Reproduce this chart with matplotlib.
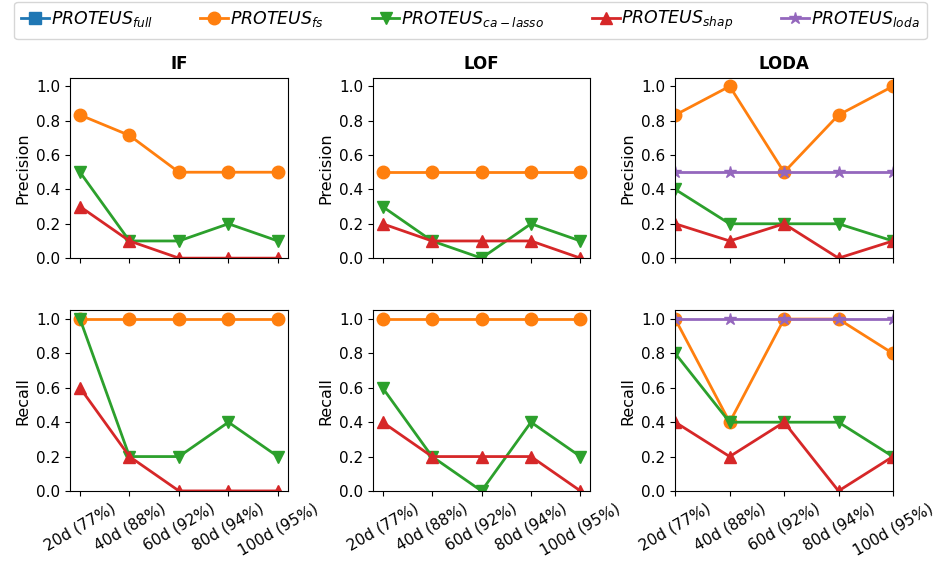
import numpy as np
import matplotlib
matplotlib.use('Agg')
import matplotlib.pyplot as plt

dims = ['20d (77%)', '40d (88%)', '60d (92%)', '80d (94%)', '100d (95%)']
detectors = ['IF', 'LOF', 'LODA']

# precision per detector
prec_fs = [[0.833, 0.714, 0.5, 0.5, 0.5],
           [0.5, 0.5, 0.5, 0.5, 0.5],
           [0.833, 1.0, 0.5, 0.833, 1.0]]
prec_ca = [[0.5, 0.1, 0.1, 0.2, 0.1],
           [0.3, 0.1, 0.0, 0.2, 0.1],
           [0.4, 0.2, 0.2, 0.2, 0.1]]
prec_shap = [[0.3, 0.1, 0.0, 0.0, 0.0],
             [0.2, 0.1, 0.1, 0.1, 0.0],
             [0.2, 0.1, 0.2, 0.0, 0.1]]
prec_loda = [0.5, 0.5, 0.5, 0.5, 0.5]

# recall per detector
rec_fs = [[1.0, 1.0, 1.0, 1.0, 1.0],
          [1.0, 1.0, 1.0, 1.0, 1.0],
          [1.0, 0.4, 1.0, 1.0, 0.8]]
rec_ca = [[1.0, 0.2, 0.2, 0.4, 0.2],
          [0.6, 0.2, 0.0, 0.4, 0.2],
          [0.8, 0.4, 0.4, 0.4, 0.2]]
rec_shap = [[0.6, 0.2, 0.0, 0.0, 0.0],
            [0.4, 0.2, 0.2, 0.2, 0.0],
            [0.4, 0.2, 0.4, 0.0, 0.2]]
rec_loda = [1.0, 1.0, 1.0, 1.0, 1.0]

x_pos = np.arange(len(dims))
fig, axes = plt.subplots(2, 3, figsize=(9.35, 5.63), dpi=100)
plt.subplots_adjust(left=0.075, right=0.955, top=0.862, bottom=0.128,
                    wspace=0.39, hspace=0.29)

kw = dict(lw=2, ms=9)
for row, (fs, ca, shap, loda, ylab) in enumerate(
        [(prec_fs, prec_ca, prec_shap, prec_loda, 'Precision'),
         (rec_fs, rec_ca, rec_shap, rec_loda, 'Recall')]):
    for col, det in enumerate(detectors):
        ax = axes[row, col]
        l_full, = ax.plot([], [], color='tab:blue', marker='s', **kw)
        l_fs, = ax.plot(x_pos, fs[col], color='tab:orange', marker='o', **kw)
        l_ca, = ax.plot(x_pos, ca[col], color='tab:green', marker='v', **kw)
        l_sh, = ax.plot(x_pos, shap[col], color='tab:red', marker='^', **kw)
        if det == 'LODA':
            l_lo, = ax.plot(x_pos, loda, color='tab:purple', marker='*', **kw)
            ax.set_xlim(0, 4)
        ax.set_ylim(0, 1.05)
        ax.set_yticks(np.arange(0, 1.01, 0.2))
        ax.set_ylabel(ylab, fontsize=11.5)
        ax.tick_params(labelsize=11)
        ax.set_xticks(x_pos)
        if row == 0:
            ax.set_title(det, fontweight='bold', fontsize=12)
            ax.set_xticklabels([])
        else:
            ax.set_xticklabels(dims, rotation=30, fontsize=11)

fig.legend([l_full, l_fs, l_ca, l_sh, l_lo],
           [r'$PROTEUS_{full}$', r'$PROTEUS_{fs}$', r'$PROTEUS_{ca-lasso}$',
            r'$PROTEUS_{shap}$', r'$PROTEUS_{loda}$'],
           loc='upper center', ncol=5, bbox_to_anchor=(0.503, 1.012),
           fontsize=12.5, handlelength=1.6, handletextpad=0.1,
           columnspacing=2.75)
plt.savefig('out.png')
